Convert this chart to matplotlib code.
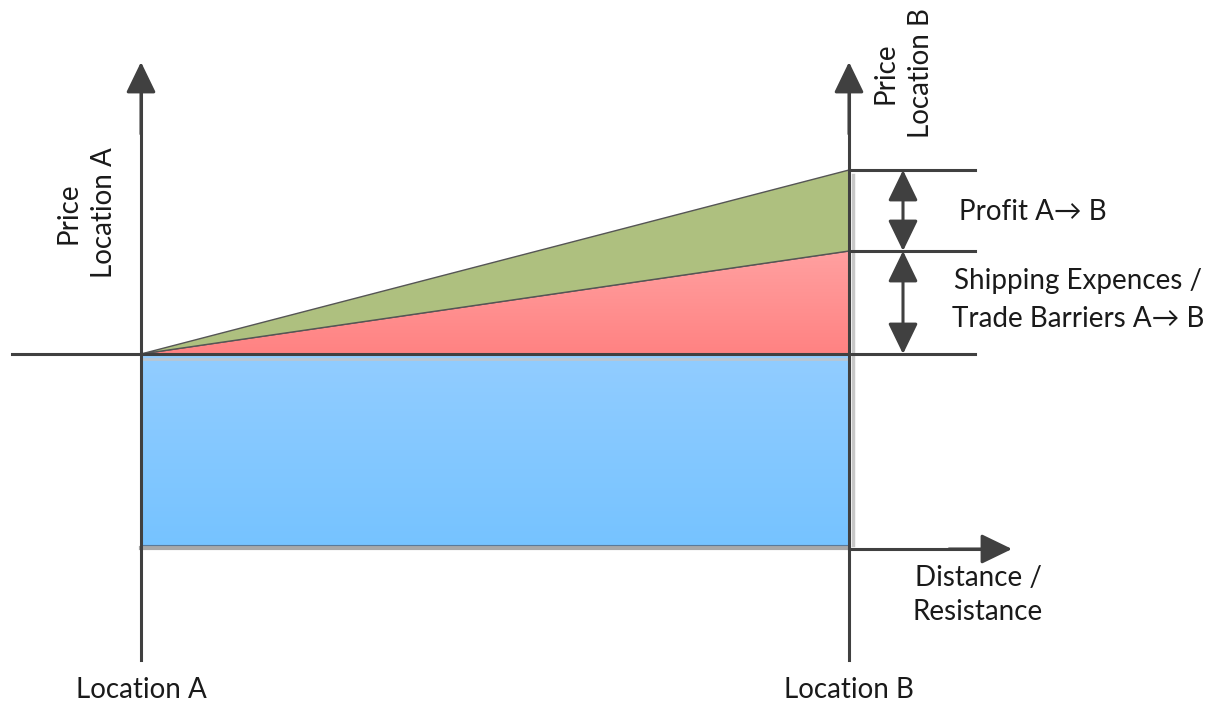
import numpy as np
import matplotlib
matplotlib.use("Agg")
import matplotlib.pyplot as plt
from matplotlib.patches import Polygon
from matplotlib.colors import LinearSegmentedColormap

# diagram values (distance A->B = 0..1, price relative to price at A)
locations = [0.0, 1.0]
location_labels = ["Location A", "Location B"]
price_a = 0.0
shipping_b = 1.03     # shipping expences / trade barriers at B
profit_b = 0.81       # profit A -> B
goods_depth = 1.91    # blue block below the price line

plt.rcParams['font.family'] = ['Lato', 'DejaVu Sans']
dark = "#404040"
txt = "#1a1a1a"

fig = plt.figure(figsize=(12.14, 7.07), dpi=100)
ax = fig.add_axes([0, 0, 1, 1])
ax.set_axis_off()

xa, xb = locations
ship_top = price_a + shipping_b
profit_top = ship_top + profit_b
blue_bot = price_a - goods_depth

# blue block with vertical gradient
blue = Polygon([(xa, price_a), (xb, price_a), (xb, blue_bot), (xa, blue_bot)],
               closed=True, facecolor="none", edgecolor="#5a7a99", lw=0.8, zorder=3)
ax.add_patch(blue)
grad = np.linspace(0, 1, 256).reshape(-1, 1)
cm_blue = LinearSegmentedColormap.from_list("b", ["#76c3ff", "#92cdff"])
im = ax.imshow(grad, extent=(xa, xb, blue_bot, price_a), origin="lower",
               aspect="auto", cmap=cm_blue, zorder=2)
im.set_clip_path(blue)

# red triangle (shipping)
red = Polygon([(xa, price_a), (xb, ship_top), (xb, price_a)], closed=True,
              facecolor="none", edgecolor="#555555", lw=1.0, zorder=3)
ax.add_patch(red)
cm_red = LinearSegmentedColormap.from_list("r", ["#ff8282", "#ffa0a0"])
im2 = ax.imshow(grad, extent=(xa, xb, price_a, ship_top), origin="lower",
                aspect="auto", cmap=cm_red, zorder=2)
im2.set_clip_path(red)

# green triangle (profit)
ax.add_patch(Polygon([(xa, price_a), (xb, profit_top), (xb, ship_top)], closed=True,
                     facecolor="#aec07f", edgecolor="#555555", lw=1.0, zorder=3))

# shadows
px = 1 / 708.0
ax.plot([xb + 4 * px, xb + 4 * px], [profit_top - 0.05, blue_bot], color="#c8c8c8", lw=2.5, zorder=1)
ax.plot([xa, xb], [blue_bot - 0.03, blue_bot - 0.03], color="#a8a8a8", lw=3, zorder=1)
ax.plot([xa, xb], [price_a - 0.05, price_a - 0.05], color="#b9c6d2", lw=2, zorder=2.5)

# axes lines
ax.plot([-129 * px, 834 * px], [price_a, price_a], color=dark, lw=2.2, zorder=4)
ax.plot([xb, xb + 126 * px], [profit_top, profit_top], color=dark, lw=2.2, zorder=4)
ax.plot([xb, xb + 126 * px], [ship_top, ship_top], color=dark, lw=2.2, zorder=4)
ax.plot([xa, xa], [-3.06, 2.7], color=dark, lw=2.2, zorder=4)
ax.plot([xb, xb], [-3.06, 2.7], color=dark, lw=2.2, zorder=4)

head = "-|>,head_length=0.95,head_width=0.46"
for x in locations:
    ax.annotate("", xy=(x, 2.92), xytext=(x, 2.2),
                arrowprops=dict(arrowstyle=head, color=dark, lw=2.2,
                                mutation_scale=20, shrinkA=0, shrinkB=0), zorder=5)
ax.plot([xb, xb + 140 * px], [blue_bot - 0.04, blue_bot - 0.04], color=dark, lw=2.2, zorder=4)
ax.annotate("", xy=(xb + 163 * px, blue_bot - 0.04), xytext=(xb + 100 * px, blue_bot - 0.04),
            arrowprops=dict(arrowstyle=head, color=dark, lw=2.2,
                            mutation_scale=20, shrinkA=0, shrinkB=0), zorder=5)

# double arrows
dbl = "<|-|>,head_length=0.95,head_width=0.46"
xd = xb + 54 * px
ax.annotate("", xy=(xd, profit_top), xytext=(xd, ship_top),
            arrowprops=dict(arrowstyle=dbl, color=dark, lw=2.2,
                            mutation_scale=20, shrinkA=0, shrinkB=0), zorder=5)
ax.annotate("", xy=(xd, ship_top), xytext=(xd, price_a),
            arrowprops=dict(arrowstyle=dbl, color=dark, lw=2.2,
                            mutation_scale=20, shrinkA=0, shrinkB=0), zorder=5)

# texts
fs = 20
for x, lab in zip(locations, location_labels):
    ax.text(x, -3.36, lab, ha="center", va="center", fontsize=fs, color=txt)
ax.text(-55 * px, 1.41, "Price\nLocation A", rotation=90, ha="center", va="center",
        fontsize=fs, color=txt, linespacing=1.45)
ax.text(xb + 54 * px, 2.81, "Price\nLocation B", rotation=90, ha="center", va="center",
        fontsize=fs, color=txt, linespacing=1.45)
ax.text(xb + 184 * px, 1.42, "Profit A\u2192 B", ha="center", va="center",
        fontsize=fs, color=txt)
ax.text(xb + 229 * px, 0.54, "Shipping Expences /\nTrade Barriers A\u2192 B", ha="center",
        va="center", fontsize=fs, color=txt, linespacing=1.55)
ax.text(xb + 129 * px, -2.41, "Distance /\nResistance", ha="center", va="center",
        fontsize=fs, color=txt, linespacing=1.4)

ax.set_xlim(-141 * px, (1214 - 141) * px)
ax.set_ylim(-3.53, 3.54)

fig.savefig("out.png", dpi=100)
